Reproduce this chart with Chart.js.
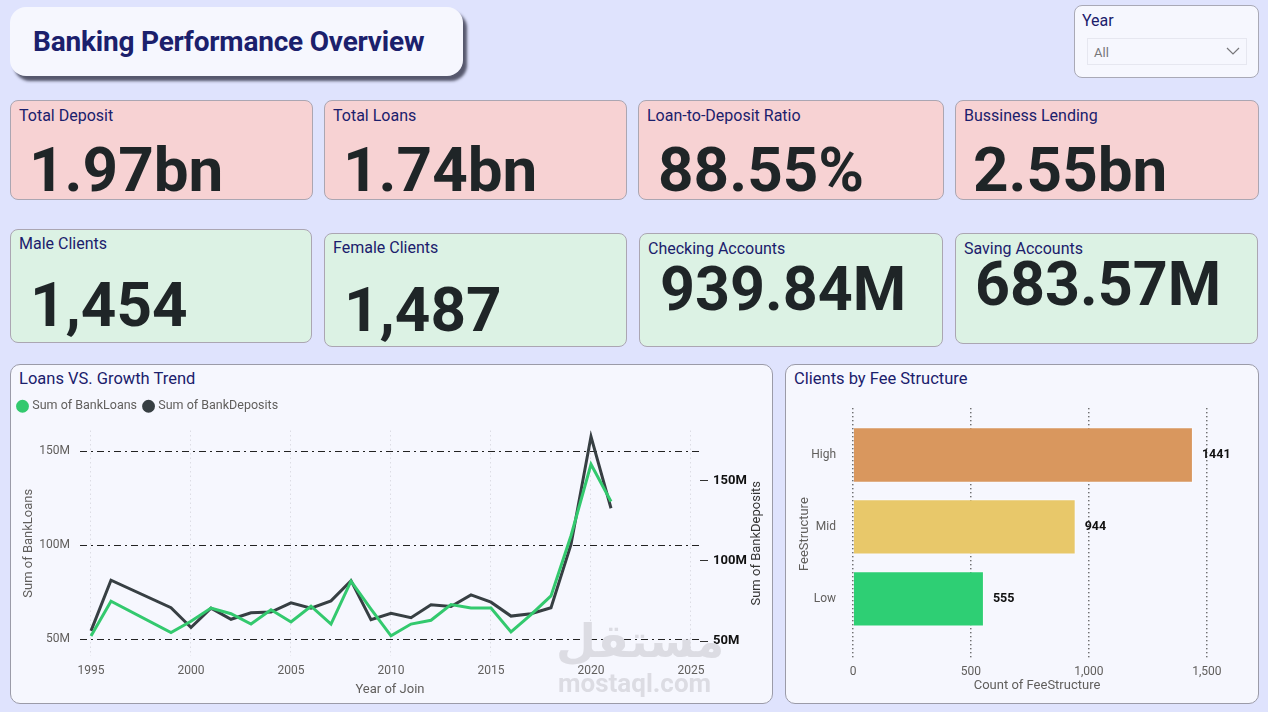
<!DOCTYPE html>
<html>
<head>
<meta charset="utf-8">
<title>Banking Performance Overview</title>
<script src="https://cdn.jsdelivr.net/npm/chart.js@4.4.1/dist/chart.umd.min.js"></script>
<style>
  body { margin: 0; width: 1268px; height: 712px; background: #dfe3fd; font-family: Roboto, "Noto Sans", sans-serif; position: relative; overflow: hidden; }
  .abs { position: absolute; box-sizing: border-box; }
  .header { left: 10px; top: 7px; width: 453px; height: 69px; background: #f6f7fe; border-radius: 16px; box-shadow: 4px 5px 3px rgba(40, 42, 60, 0.75); }
  .header h1 { position: absolute; left: 23px; top: 20px; margin: 0; font-size: 28px; line-height: 30px; font-weight: 700; color: #1b206c; letter-spacing: -0.2px; }
  .slicer { left: 1074px; top: 5px; width: 185px; height: 73px; background: #f6f7fe; border: 1px solid #a9a9b6; border-radius: 8px; }
  .slicer .lbl { position: absolute; left: 7px; top: 5px; font-size: 16px; color: #1b206c; }
  .slicer .dd { position: absolute; left: 12px; top: 32px; width: 160px; height: 27px; border: 1px solid #e6e7f0; box-sizing: border-box; }
  .slicer .dd span { position: absolute; left: 6px; top: 6px; font-size: 13px; color: #77767a; }
  .slicer .dd svg { position: absolute; right: 6px; top: 7px; }
  .card { border: 1px solid #aba6b2; border-radius: 8px; }
  .pink { background: #f7d2d3; }
  .green { background: #dcf2e4; }
  .card .t { position: absolute; left: 8px; font-size: 16px; line-height: 16px; color: #1b206c; white-space: nowrap; }
  .card .v { position: absolute; left: 18px; font-size: 62px; line-height: 62px; font-weight: 700; color: #1f2527; white-space: nowrap; }
  .panel { background: #f6f7fe; border: 1px solid #9b9ba8; border-radius: 10px; }
  .panel .pt { position: absolute; left: 8px; top: 4px; font-size: 16.5px; color: #1b206c; }
  .wrap { position: absolute; }
  .mark { position: absolute; color: #dcdce3; font-weight: 700; pointer-events: none; white-space: nowrap; }
</style>
</head>
<body>

<div class="abs header"><h1>Banking Performance Overview</h1></div>

<div class="abs slicer">
  <div class="lbl">Year</div>
  <div class="dd"><span>All</span>
    <svg width="14" height="10" viewBox="0 0 14 10"><polyline points="1,2 7,8 13,2" fill="none" stroke="#77767a" stroke-width="1.2"/></svg>
  </div>
</div>

<div class="abs card pink" style="left:10px;top:100px;width:303px;height:100px"><div class="t" style="top:7px">Total Deposit</div><div class="v" style="top:38px">1.97bn</div></div>
<div class="abs card pink" style="left:324px;top:100px;width:303px;height:100px"><div class="t" style="top:7px">Total Loans</div><div class="v" style="top:38px">1.74bn</div></div>
<div class="abs card pink" style="left:638px;top:100px;width:306px;height:100px"><div class="t" style="top:7px">Loan-to-Deposit Ratio</div><div class="v" style="top:38px;left:19px">88.55%</div></div>
<div class="abs card pink" style="left:955px;top:100px;width:304px;height:100px"><div class="t" style="top:7px">Bussiness Lending</div><div class="v" style="top:38px;left:17px">2.55bn</div></div>

<div class="abs card green" style="left:10px;top:229px;width:302px;height:114px"><div class="t" style="top:6px">Male Clients</div><div class="v" style="top:44px;left:19px">1,454</div></div>
<div class="abs card green" style="left:324px;top:233px;width:303px;height:114px"><div class="t" style="top:6px">Female Clients</div><div class="v" style="top:45px;left:19px">1,487</div></div>
<div class="abs card green" style="left:639px;top:233px;width:304px;height:114px"><div class="t" style="top:7px">Checking Accounts</div><div class="v" style="top:24px;left:20px;font-size:61px">939.84M</div></div>
<div class="abs card green" style="left:955px;top:233px;width:303px;height:111px"><div class="t" style="top:7px">Saving Accounts</div><div class="v" style="top:19px;left:19px;font-size:61px">683.57M</div></div>

<div class="abs panel" style="left:10px;top:364px;width:763px;height:340px"><div class="pt">Loans VS. Growth Trend</div></div>
<div class="abs panel" style="left:785px;top:364px;width:474px;height:340px"><div class="pt">Clients by Fee Structure</div></div>

<div class="wrap" style="left:10px;top:392px;width:763px;height:310px"><canvas id="trendChart"></canvas></div>
<div class="wrap" style="left:785px;top:392px;width:474px;height:310px"><canvas id="feeChart"></canvas></div>

<div class="mark" style="left:556px;top:614px;font-size:46px;font-family:'DejaVu Sans'">مستقل</div>
<div class="mark" style="left:558px;top:668px;font-size:26px">mostaql.com</div>

<script>
// loans vs deposits by year of join (millions), 1997-1998 have no rows
const joinYears = [1995, 1996, 1999, 2000, 2001, 2002, 2003, 2004, 2005, 2006, 2007, 2008, 2009,
  2010, 2011, 2012, 2013, 2014, 2015, 2016, 2017, 2018, 2019, 2020, 2021];
const loanSums = [51.7, 70.2, 53.5, 59.5, 66.5, 63.5, 58.0, 65.6, 59.1, 67.5, 58.0, 80.8, 66.0,
  51.7, 58.0, 60.0, 68.4, 66.5, 66.5, 53.8, 63.0, 73.0, 105.0, 143.0, 123.2];
const depositSums = [56.4, 88.0, 70.8, 58.5, 70.6, 63.6, 67.7, 68.1, 73.9, 70.6, 75.1, 87.7, 63.4,
  67.3, 64.6, 72.7, 71.6, 78.8, 74.3, 65.6, 67.1, 70.8, 110.3, 177.6, 132.9];
const yearTicks = [1995, 2000, 2005, 2010, 2015, 2020, 2025];
const moneyTicks = [50, 100, 150];

// clients per fee structure
const feeLevels = ['High', 'Mid', 'Low'];
const feeCounts = [1441, 944, 555];
const feeColors = ['#d9975e', '#e8c86a', '#2ecf74'];
const countTicks = [0, 500, 1000, 1500];

Chart.defaults.font.family = 'Roboto, "Noto Sans", sans-serif';
Chart.defaults.animation = false;

const grey = '#605e5c';

// push the plot a bit lower than the legend
const legendGap = {
  id: 'legendGap',
  beforeInit(chart) {
    const fit = chart.legend.fit;
    chart.legend.fit = function () {
      fit.bind(chart.legend)();
      this.height += 8;
    };
  }
};

// right axis title reads bottom-to-top like the left one
const rightTitle = {
  id: 'rightTitle',
  afterDraw(chart) {
    const s = chart.scales.yDeposits;
    const area = chart.chartArea;
    const ctx = chart.ctx;
    ctx.save();
    ctx.translate(s.right - 8, (area.top + area.bottom) / 2);
    ctx.rotate(-Math.PI / 2);
    ctx.textAlign = 'center';
    ctx.textBaseline = 'middle';
    ctx.font = '13px Roboto, sans-serif';
    ctx.fillStyle = '#333';
    ctx.fillText('Sum of BankDeposits', 0, 0);
    ctx.restore();
  }
};

new Chart('trendChart', {
  type: 'line',
  data: {
    datasets: [
      {
        label: 'Sum of BankLoans',
        data: joinYears.map((y, i) => ({ x: y, y: loanSums[i] })),
        borderColor: '#33c96e',
        backgroundColor: '#33c96e',
        borderWidth: 3,
        pointRadius: 0,
        yAxisID: 'yLoans'
      },
      {
        label: 'Sum of BankDeposits',
        data: joinYears.map((y, i) => ({ x: y, y: depositSums[i] })),
        borderColor: '#373f43',
        backgroundColor: '#373f43',
        borderWidth: 3,
        pointRadius: 0,
        yAxisID: 'yDeposits'
      }
    ]
  },
  options: {
    responsive: true,
    maintainAspectRatio: false,
    layout: { padding: { left: 1, right: 8, top: 0, bottom: 4 } },
    plugins: {
      legend: {
        position: 'top',
        align: 'start',
        labels: { usePointStyle: true, pointStyle: 'circle', boxWidth: 7, boxHeight: 7, padding: 8, color: grey, font: { size: 12.5 } }
      },
      tooltip: { enabled: false }
    },
    scales: {
      x: {
        type: 'linear',
        min: 1994.45,
        max: 2025.45,
        afterBuildTicks: s => { s.ticks = yearTicks.map(v => ({ value: v })); },
        afterFit: s => { s.height = 42; },
        ticks: { callback: v => String(v), color: grey, font: { size: 12 }, padding: 8 },
        grid: { color: '#dcdce4', drawTicks: false },
        border: { display: false, dash: [1.5, 3] },
        title: { display: true, text: 'Year of Join', color: grey, font: { size: 13 }, padding: { top: 3, bottom: 0 } }
      },
      yLoans: {
        position: 'left',
        min: 41,
        max: 161,
        afterBuildTicks: s => { s.ticks = moneyTicks.map(v => ({ value: v })); },
        afterFit: s => { s.width = 69; },
        ticks: { callback: v => v + 'M', color: grey, font: { size: 12 }, padding: 10 },
        grid: { color: '#222', lineWidth: 1, drawTicks: false },
        border: { display: false, dash: [7, 4, 2, 4] },
        title: { display: true, text: 'Sum of BankLoans', color: grey, font: { size: 13 }, padding: { top: 10, bottom: 0 } }
      },
      yDeposits: {
        position: 'right',
        min: 40.7,
        max: 181.4,
        afterBuildTicks: s => { s.ticks = moneyTicks.map(v => ({ value: v })); },
        afterFit: s => { s.width = 65; },
        ticks: { callback: v => v + 'M', color: '#111', font: { size: 13, weight: 'bold' }, padding: 5 },
        grid: { drawOnChartArea: false, color: '#333', tickLength: 8 },
        border: { display: false }
      }
    }
  },
  plugins: [legendGap, rightTitle]
});

// value labels at the end of each bar
const barValues = {
  id: 'barValues',
  afterDatasetsDraw(chart) {
    const ctx = chart.ctx;
    const meta = chart.getDatasetMeta(0);
    ctx.save();
    ctx.font = 'bold 12.5px Roboto, sans-serif';
    ctx.fillStyle = '#111';
    ctx.textBaseline = 'middle';
    meta.data.forEach((bar, i) => {
      ctx.fillText(String(feeCounts[i]), bar.x + 9, bar.y);
    });
    ctx.restore();
  }
};

new Chart('feeChart', {
  type: 'bar',
  data: {
    datasets: [{
      data: feeCounts.map((v, i) => ({ x: v, y: i })),
      backgroundColor: feeColors,
      borderColor: 'rgba(255,255,255,0.5)',
      borderWidth: 1,
      barPercentage: 0.77,
      categoryPercentage: 1
    }]
  },
  options: {
    indexAxis: 'y',
    responsive: true,
    maintainAspectRatio: false,
    layout: { padding: { left: 8, right: 38, top: 11, bottom: 8 } },
    plugins: { legend: { display: false }, tooltip: { enabled: false } },
    scales: {
      x: {
        type: 'linear',
        min: 0,
        max: 1560,
        afterBuildTicks: s => { s.ticks = countTicks.map(v => ({ value: v })); },
        afterFit: s => { s.height = 34; },
        ticks: { callback: v => v.toLocaleString('en-US'), color: grey, font: { size: 12 }, padding: 5 },
        grid: { color: '#444', lineWidth: 1.5, drawTicks: false },
        border: { display: false, dash: [1, 3] },
        title: { display: true, text: 'Count of FeeStructure', color: grey, font: { size: 13 }, padding: { top: 3, bottom: 0 } }
      },
      y: {
        type: 'linear',
        reverse: true,
        offset: false,
        min: -0.65,
        max: 2.85,
        afterBuildTicks: s => { s.ticks = feeLevels.map((l, i) => ({ value: i })); },
        afterFit: s => { s.width = 60; },
        ticks: { callback: v => feeLevels[v], color: grey, font: { size: 12 }, padding: 9 },
        grid: { display: false, offset: false },
        border: { display: false },
        title: { display: true, text: 'FeeStructure', color: grey, font: { size: 13 }, padding: { top: 4, bottom: 4 } }
      }
    }
  },
  plugins: [barValues]
});
</script>
</body>
</html>
